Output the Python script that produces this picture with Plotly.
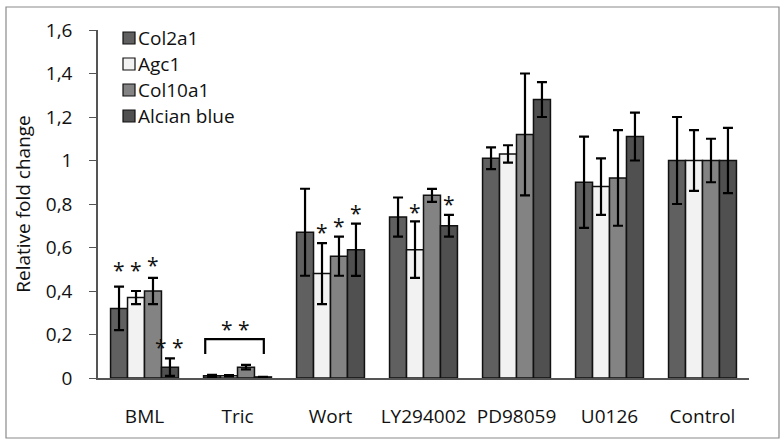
import plotly.graph_objects as go

categories = ["BML", "Tric", "Wort", "LY294002", "PD98059", "U0126", "Control"]
series_names = ["Col2a1", "Agc1", "Col10a1", "Alcian blue"]
col2a1 = [0.32, 0.01, 0.67, 0.74, 1.01, 0.90, 1.00]
col2a1_err = [0.10, 0.005, 0.20, 0.09, 0.05, 0.21, 0.20]
agc1 = [0.37, 0.01, 0.48, 0.59, 1.03, 0.88, 1.00]
agc1_err = [0.03, 0.003, 0.14, 0.13, 0.04, 0.13, 0.14]
col10a1 = [0.40, 0.05, 0.56, 0.84, 1.12, 0.92, 1.00]
col10a1_err = [0.06, 0.01, 0.09, 0.03, 0.28, 0.22, 0.10]
alcian = [0.05, 0.005, 0.59, 0.70, 1.28, 1.11, 1.00]
alcian_err = [0.04, 0.0, 0.12, 0.05, 0.08, 0.11, 0.15]

values = [col2a1, agc1, col10a1, alcian]
errors = [col2a1_err, agc1_err, col10a1_err, alcian_err]
colors = ["#606060", "#f2f2f2", "#838383", "#505050"]

# significance stars: (category index, series index, text, extra pixel shift)
stars = [(0, 0, "*", 6), (0, 1, "*", 10), (0, 2, "*", 2), (0, 3, "* *", 0),
         (2, 1, "*", 0), (2, 2, "*", 0), (2, 3, "*", 0),
         (3, 1, "*", -2), (3, 3, "*", 0)]

bargap = 0.27
bw = (1 - bargap) / 4
xs = list(range(len(categories)))

W, H = 784, 443
L, R, T, B = 98, 35, 30, 65
pw, ph = W - L - R, H - T - B
FS = 19
SFS = 21

def px(x):
    return (x - L) / pw

def py(y):
    return (H - B - y) / ph

fig = go.Figure()
for i, (name, vals, errs, c) in enumerate(zip(series_names, values, errors, colors)):
    fig.add_trace(go.Bar(
        x=xs, y=vals, name=name, showlegend=False,
        marker=dict(color=c, line=dict(color="#111111", width=1.5)),
        error_y=dict(type="data", array=errs, color="#000000", thickness=2.2, width=5),
    ))

font_main = "Open Sans, Noto Sans, sans-serif"
for ci, si, txt, sh in stars:
    fig.add_annotation(
        x=ci + (si - 1.5) * bw, y=values[si][ci] + errors[si][ci],
        text=txt, showarrow=False, yanchor="bottom", yshift=-5 + sh,
        font=dict(size=SFS, color="#111111", family=font_main),
    )

# Tric bracket
tric = categories.index("Tric")
fig.add_shape(type="path",
              path=f"M {tric-0.347},0.11 L {tric-0.347},0.179 L {tric+0.283},0.179 L {tric+0.283},0.11",
              line=dict(color="#000000", width=2.2))
fig.add_annotation(x=tric - 0.02, y=0.179, text="* *", showarrow=False, yanchor="bottom",
                   yshift=-6, font=dict(size=SFS, color="#111111", family=font_main))

# custom legend
leg_y = [38, 64, 90, 116]
for name, c, yy in zip(series_names, colors, leg_y):
    fig.add_shape(type="rect", xref="paper", yref="paper",
                  x0=px(123), x1=px(135), y0=py(yy + 6), y1=py(yy - 6),
                  fillcolor=c, line=dict(color="#111111", width=1.2))
    fig.add_annotation(xref="paper", yref="paper", x=px(136), y=py(yy), text=name,
                       showarrow=False, xanchor="left", yanchor="middle",
                       font=dict(size=FS, color="#111111", family=font_main))

# outer border
fig.add_shape(type="rect", xref="paper", yref="paper",
              x0=px(6), x1=px(779), y0=py(438), y1=py(7),
              line=dict(color="#8a8a8a", width=1.2), fillcolor="rgba(0,0,0,0)", layer="below")

fig.update_layout(
    width=W, height=H,
    margin=dict(l=L, r=R, t=T, b=B),
    paper_bgcolor="white", plot_bgcolor="white",
    barmode="group", bargap=bargap, bargroupgap=0,
    separators=", ",
    font=dict(family=font_main, size=FS, color="#111111"),
    showlegend=False,
    xaxis=dict(tickmode="array", tickvals=xs, ticktext=categories, range=[-0.5, len(categories) - 0.5],
               showline=True, linecolor="#555555", linewidth=1.5, ticks="", showgrid=False,
               zeroline=False, tickfont=dict(size=FS), ticklabelstandoff=20),
    yaxis=dict(range=[0, 1.6], dtick=0.2, showline=True, linecolor="#555555", linewidth=1.5,
               ticks="outside", ticklen=7, tickcolor="#555555", showgrid=False, zeroline=False,
               tickfont=dict(size=FS), ticklabelstandoff=13,
               title=dict(text="Relative fold change", font=dict(size=FS), standoff=10)),
)

fig.write_html("out.html", config={"displayModeBar": False},
               post_script="document.body.style.margin='0';document.body.style.overflow='hidden';")
